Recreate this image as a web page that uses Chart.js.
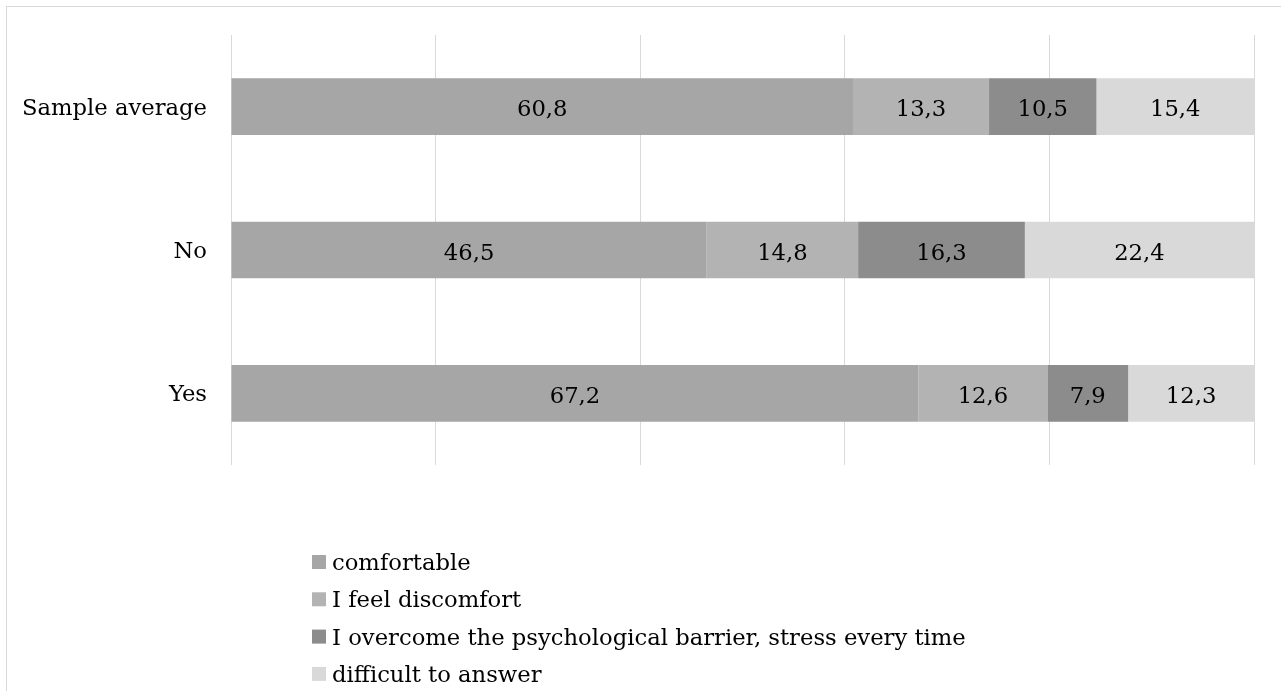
<!DOCTYPE html>
<html>
<head>
<meta charset="utf-8">
<script src="https://cdn.jsdelivr.net/npm/chart.js@4/dist/chart.umd.min.js"></script>
<style>
  html, body { margin: 0; padding: 0; background: #fff; }
  #wrap { position: relative; width: 1281px; height: 691px; overflow: hidden; }
  #frame { position: absolute; left: 6px; top: 6px; width: 1290px; height: 700px;
           border: 1px solid #d9d9d9; box-sizing: border-box; }
  #chart { position: absolute; left: 0; top: 0; }
</style>
</head>
<body>
<div id="wrap">
  <div id="frame"></div>
  <canvas id="chart" width="1281" height="691"></canvas>
</div>
<script>
const categories = ["Sample average", "No", "Yes"];
const seriesNames = [
  "comfortable",
  "I feel discomfort",
  "I overcome the psychological barrier, stress every time",
  "difficult to answer"
];
const comfortable = [60.8, 46.5, 67.2];
const discomfort = [13.3, 14.8, 12.6];
const overcome = [10.5, 16.3, 7.9];
const difficult = [15.4, 22.4, 12.3];
const seriesColors = ["#a6a6a6", "#b3b3b3", "#8c8c8c", "#d9d9d9"];
const xTicks = [0, 20, 40, 60, 80, 100];

const FONT = "DejaVu Serif";
const FONT_SIZE = 22.7;
const seriesValues = [comfortable, discomfort, overcome, difficult];

// Writes each segment's value, decimal comma, centred inside the segment
const segmentLabels = {
  id: "segmentLabels",
  afterDatasetsDraw(chart) {
    const ctx = chart.ctx;
    ctx.save();
    ctx.font = FONT_SIZE + "px '" + FONT + "'";
    ctx.fillStyle = "#000";
    ctx.textAlign = "center";
    ctx.textBaseline = "alphabetic";
    chart.data.datasets.forEach((ds, i) => {
      chart.getDatasetMeta(i).data.forEach((bar, j) => {
        const p = bar.getProps(["x", "y", "base"], true);
        const cx = (p.x + p.base) / 2;
        ctx.fillText(ds.data[j].toFixed(1).replace(".", ","), cx, p.y + 9.5);
      });
    });
    ctx.restore();
  }
};

// Vertical legend list below the plot
const stackedLegend = {
  id: "stackedLegend",
  afterDraw(chart) {
    const ctx = chart.ctx;
    const boxX = 312, firstBaseline = 570, rowStep = 37.3, box = 14;
    ctx.save();
    ctx.font = FONT_SIZE + "px '" + FONT + "'";
    ctx.textAlign = "left";
    ctx.textBaseline = "alphabetic";
    chart.data.datasets.forEach((ds, i) => {
      const base = firstBaseline + i * rowStep;
      ctx.fillStyle = ds.backgroundColor;
      ctx.fillRect(boxX, base - 15, box, box);
      ctx.fillStyle = "#000";
      ctx.fillText(ds.label, boxX + 20, base);
    });
    ctx.restore();
  }
};

new Chart(document.getElementById("chart"), {
  type: "bar",
  data: {
    labels: categories,
    datasets: seriesNames.map((name, i) => ({
      label: name,
      data: seriesValues[i],
      backgroundColor: seriesColors[i],
      borderWidth: 0,
      barPercentage: 0.395,
      categoryPercentage: 1
    }))
  },
  options: {
    indexAxis: "y",
    responsive: false,
    animation: false,
    layout: { padding: { left: 0, right: 27, top: 35, bottom: 226 } },
    plugins: { legend: { display: false }, tooltip: { enabled: false } },
    scales: {
      x: {
        stacked: true,
        min: 0, max: 100,
        afterBuildTicks(scale) { scale.ticks = xTicks.map(v => ({ value: v })); },
        ticks: { display: false },
        grid: { color: "#d9d9d9", lineWidth: 1, drawTicks: false },
        border: { display: false }
      },
      y: {
        stacked: true,
        afterFit(scale) {
          scale.width = 231;
          scale.paddingTop = 0;
          scale.paddingBottom = 0;
        },
        ticks: { padding: 24, color: "#000", labelOffset: 2, font: { family: FONT, size: FONT_SIZE } },
        grid: { display: false, drawTicks: false },
        border: { display: false }
      }
    }
  },
  plugins: [segmentLabels, stackedLegend]
});
</script>
</body>
</html>
